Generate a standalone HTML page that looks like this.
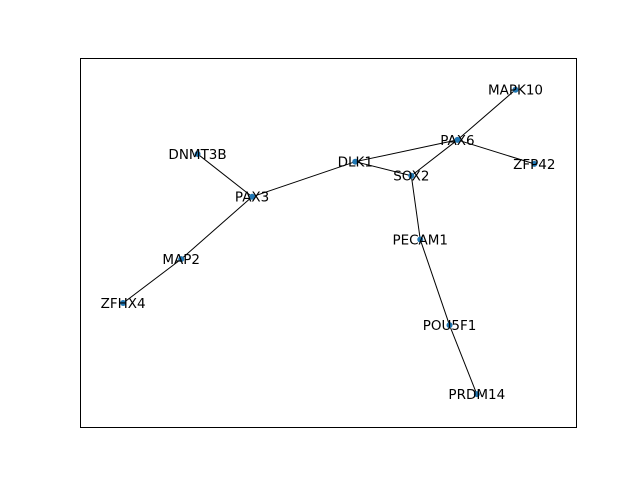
<!DOCTYPE html>
<html><head><meta charset="utf-8"><style>body{margin:0;background:#fff}svg{display:block}text{font-family:"DejaVu Sans","Liberation Sans",sans-serif;font-size:13.5px}</style></head>
<body>
<svg id="chart" width="640" height="480">
<rect x="80.5" y="58.5" width="496" height="369" fill="none" stroke="#000" stroke-width="1"/>
<g id="edges"></g><g id="nodes"></g><g id="labels"></g>
</svg>
<script>
const nodeNames = ["MAPK10","PAX6","ZFP42","DLK1","SOX2","DNMT3B","PAX3","PECAM1","MAP2","ZFHX4","POU5F1","PRDM14"];
const nodeX = [0.878,0.761,0.916,0.555,0.668,0.237,0.347,0.686,0.204,0.087,0.745,0.800];
const nodeY = [0.914,0.778,0.713,0.719,0.681,0.740,0.624,0.508,0.455,0.336,0.276,0.089];
const edgeList = [["MAPK10","PAX6"],["PAX6","ZFP42"],["PAX6","SOX2"],["PAX6","DLK1"],["DLK1","SOX2"],["DLK1","PAX3"],["DNMT3B","PAX3"],["PAX3","MAP2"],["MAP2","ZFHX4"],["SOX2","PECAM1"],["PECAM1","POU5F1"],["POU5F1","PRDM14"]];
const ax = {x0:80,y0:58,w:496,h:369};
function sx(v){return ax.x0+v*ax.w;}
function sy(v){return ax.y0+(1-v)*ax.h;}
const NS="http://www.w3.org/2000/svg";
const idx = n=>nodeNames.indexOf(n);
const eg=document.getElementById('edges'), ng=document.getElementById('nodes'), lg=document.getElementById('labels');
edgeList.forEach(e=>{
  const a=idx(e[0]), b=idx(e[1]);
  const l=document.createElementNS(NS,'line');
  l.setAttribute('x1',sx(nodeX[a]));l.setAttribute('y1',sy(nodeY[a]));
  l.setAttribute('x2',sx(nodeX[b]));l.setAttribute('y2',sy(nodeY[b]));
  l.setAttribute('stroke','#000');l.setAttribute('stroke-width','1');
  
  
  eg.appendChild(l);
});
nodeNames.forEach((n,i)=>{
  const c=document.createElementNS(NS,'circle');
  c.setAttribute('cx',sx(nodeX[i]));c.setAttribute('cy',sy(nodeY[i]));c.setAttribute('r','3');
  c.setAttribute('fill','#1f77b4');
  
  
  ng.appendChild(c);
  const t=document.createElementNS(NS,'text');
  t.setAttribute('x',sx(nodeX[i]));t.setAttribute('y',sy(nodeY[i])+5);
  t.setAttribute('text-anchor','middle');t.textContent=n;
  
  
  lg.appendChild(t);
});
</script>
</body></html>
